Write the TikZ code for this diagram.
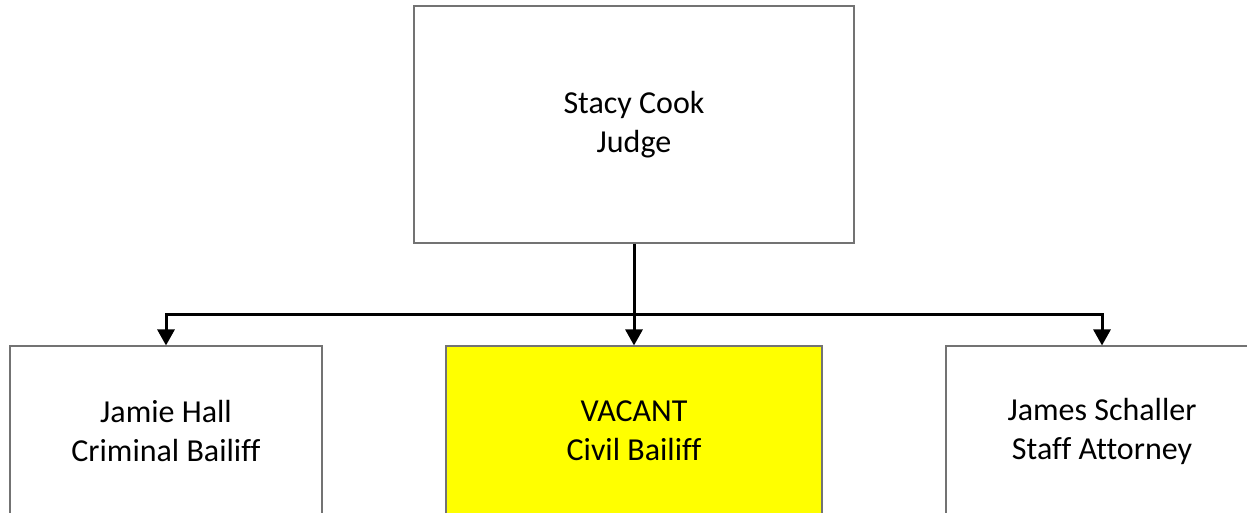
\documentclass[tikz,border=0pt]{standalone}
\usepackage{fontspec}
\setmainfont{Carlito}[Ligatures={NoCommon}]
\usepackage{xcolor}
\usetikzlibrary{positioning, arrows.meta}
\definecolor{vacant}{RGB}{255,255,0}

\begin{document}
\begin{tikzpicture} [x=1pt, y=1pt, node distance = 2cm, on grid,
    post/.style = {draw=black!55, line width=1.1pt, align=center,
        font=\fontsize{32}{39}\selectfont, inner sep=0pt},
    link/.style = {-{Triangle[width=17pt,length=16pt]}, line width=3pt}]

        \clip (0,0) rectangle (1247,-513);

        \node (judge) [post, minimum width=440pt, minimum height=237pt] at (634,-124.5)
            {Stacy Cook\\Judge}; \node (civil) [post, fill=vacant, minimum
        width=376pt, minimum height=170pt, below = 306.5pt of judge]
            {VACANT\\Civil Bailiff}; \node (crim) [post, minimum width=312pt,
        minimum height=170pt, left = 468pt of civil] {Jamie Hall\\Criminal
            Bailiff}; \node (atty) [post, minimum width=312pt, minimum
        height=170pt, right = 468pt of civil] {James Schaller\\Staff Attorney};

        \coordinate (split) at ([yshift=-71pt]judge.south);

        \path [link]
            (judge.south) edge (civil.north);
        \draw [link] (split) -| (crim.north);
        \draw [link] (split) -| (atty.north);

    \end{tikzpicture}
\end{document}
